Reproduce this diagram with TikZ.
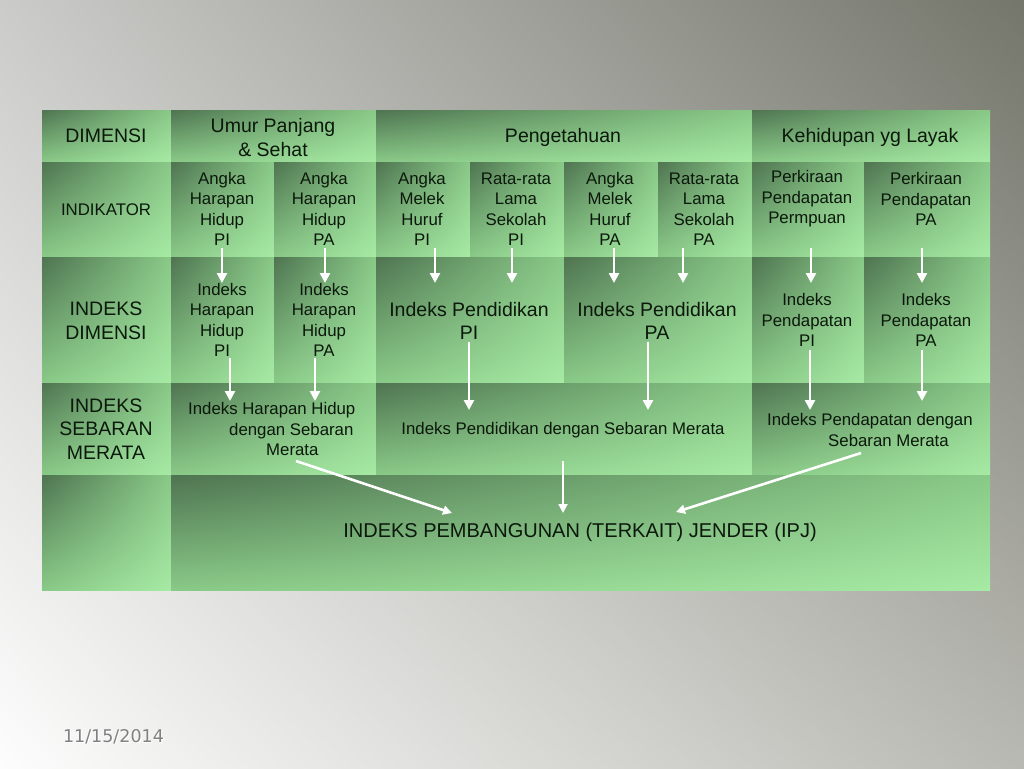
\documentclass[tikz,border=0pt]{standalone}
\usepackage{fontspec}
\setmainfont{Liberation Sans}
\newfontfamily\datefont{DejaVu Sans}
\usetikzlibrary{arrows.meta,shadings}
\definecolor{cdark}{HTML}{4F7451}
\definecolor{cmid}{HTML}{89C987}
\definecolor{clight}{HTML}{A6EAA4}
\definecolor{txt}{HTML}{0B180B}
\definecolor{bgul}{HTML}{CBCBC9}
\definecolor{bgur}{HTML}{74766B}
\definecolor{bgll}{HTML}{FDFDFD}
\definecolor{bglr}{HTML}{B9B9B3}
\newcommand\cellrect[4]{\shade[cell] (#1,#2) rectangle (#3,#4);}
\begin{document}
\begin{tikzpicture}[x=1pt,y=-1pt,
  cell/.style={upper left=cdark, upper right=cmid, lower left=cmid, lower right=clight},
  lbl/.style={text=txt, align=center, inner sep=0pt},
  hdr/.style={lbl, font=\fontsize{19.5}{23.5}\selectfont},
  ind/.style={lbl, font=\fontsize{16.8}{20.5}\selectfont},
  arr/.style={white, line width=2.8pt, -{Triangle[width=10pt,length=10pt]}},
  sarr/.style={white, line width=2.6pt, -{Triangle[width=9pt,length=9pt]}}]
\useasboundingbox (0,0) rectangle (1024,768);
\shade[upper left=bgul, upper right=bgur, lower left=bgll, lower right=bglr] (0,0) rectangle (1024,768);
% row 1
\cellrect{42}{110}{171}{162}
\cellrect{171}{110}{376}{162}
\cellrect{376}{110}{752}{162}
\cellrect{752}{110}{990}{162}
% row 2
\cellrect{42}{162}{171}{257}
\cellrect{171}{162}{274}{257}
\cellrect{274}{162}{376}{257}
\cellrect{376}{162}{470}{257}
\cellrect{470}{162}{564}{257}
\cellrect{564}{162}{658}{257}
\cellrect{658}{162}{752}{257}
\cellrect{752}{162}{864}{257}
\cellrect{864}{162}{990}{257}
% row 3
\cellrect{42}{257}{171}{383}
\cellrect{171}{257}{274}{383}
\cellrect{274}{257}{376}{383}
\cellrect{376}{257}{564}{383}
\cellrect{564}{257}{752}{383}
\cellrect{752}{257}{864}{383}
\cellrect{864}{257}{990}{383}
% row 4
\cellrect{42}{383}{171}{475}
\cellrect{171}{383}{376}{475}
\cellrect{376}{383}{752}{475}
\cellrect{752}{383}{990}{475}
% row 5
\cellrect{42}{475}{171}{590}
\cellrect{171}{475}{990}{590}

% texts row 1
\node[hdr] (dim) at (106,136) {DIMENSI};
\node[hdr] (umur) at (273,137.5) {Umur Panjang\\\& Sehat};
\node[hdr] (peng) at (563,137) {Pengetahuan};
\node[hdr] (kehid) at (870,137) {Kehidupan yg Layak};
% row 2
\node[ind] (indik) at (106,210) {INDIKATOR};
\node[ind] (i1) at (222,209) {Angka\\Harapan\\Hidup\\PI};
\node[ind] (i2) at (324,209) {Angka\\Harapan\\Hidup\\PA};
\node[ind] (i3) at (422,209) {Angka\\Melek\\Huruf\\PI};
\node[ind] (i4) at (516,209) {Rata-rata\\Lama\\Sekolah\\PI};
\node[ind] (i5) at (610,209) {Angka\\Melek\\Huruf\\PA};
\node[ind] (i6) at (704,209) {Rata-rata\\Lama\\Sekolah\\PA};
\node[ind] (i7) at (807,199) {Perkiraan\\Pendapatan\\Permpuan};
\node[ind] (i8) at (926,199) {Perkiraan\\Pendapatan\\PA};
% row 3
\node[hdr] (idim) at (106,321) {INDEKS\\DIMENSI};
\node[ind] (d1) at (222,320) {Indeks\\Harapan\\Hidup\\PI};
\node[ind] (d2) at (324,320) {Indeks\\Harapan\\Hidup\\PA};
\node[hdr] (d3) at (469,321) {Indeks Pendidikan\\PI};
\node[hdr] (d4) at (657,321) {Indeks Pendidikan\\PA};
\node[ind] (d5) at (807,320) {Indeks\\Pendapatan\\PI};
\node[ind] (d6) at (926,320) {Indeks\\Pendapatan\\PA};
% row 4
\node[hdr] (isb) at (106,429) {INDEKS\\SEBARAN\\MERATA};
\node[ind, align=left, anchor=west] (s1) at (188,429) {Indeks Harapan Hidup\\\hspace*{41pt}dengan Sebaran\\\hspace*{78pt}Merata};
\node[ind] (s2) at (563,430) {Indeks Pendidikan dengan Sebaran Merata};
\node[ind, align=left, anchor=west] (s3) at (767,430) {Indeks Pendapatan dengan\\\hspace*{61pt}Sebaran Merata};
% row 5
\node[lbl, font=\fontsize{20}{24}\selectfont] (ipj) at (580,532) {INDEKS PEMBANGUNAN (TERKAIT) JENDER (IPJ)};
% date
\node[text=white, font=\datefont\fontsize{17.5}{20}\selectfont, inner sep=0pt] at (114.5,738) {11/15/2014};
\node[text=black!50, font=\datefont\fontsize{17.5}{20}\selectfont, inner sep=0pt] (date) at (113.5,737) {11/15/2014};

% arrow coordinates row 2 -> 3
\foreach \n/\x in {a1/222,a2/325,a3/435,a4/512,a5/614,a6/683,a7/811,a8/922}{
  \coordinate (\n s) at (\x,248);
  \coordinate (\n e) at (\x,283);
}
% row 3 -> 4
\coordinate (b1s) at (230,358); \coordinate (b1e) at (230,401);
\coordinate (b2s) at (315,358); \coordinate (b2e) at (315,401);
\coordinate (b3s) at (469,342); \coordinate (b3e) at (469,410);
\coordinate (b4s) at (648,342); \coordinate (b4e) at (648,410);
\coordinate (b5s) at (810,350); \coordinate (b5e) at (810,410);
\coordinate (b6s) at (922,350); \coordinate (b6e) at (922,401);
% row 4 -> 5
\coordinate (c1s) at (296,461); \coordinate (c1e) at (452,513);
\coordinate (c2s) at (563,461); \coordinate (c2e) at (563,513);
\coordinate (c3s) at (861,453); \coordinate (c3e) at (676,512);

\foreach \n in {a1,a2,a3,a4,a5,a6,a7,a8,b1,b2,b3,b4,b5,b6}{
  \draw[arr] (\n s) -- (\n e);
}
\foreach \n in {c1,c2,c3}{
  \draw[sarr] (\n s) -- (\n e);
}
\end{tikzpicture}
\end{document}
